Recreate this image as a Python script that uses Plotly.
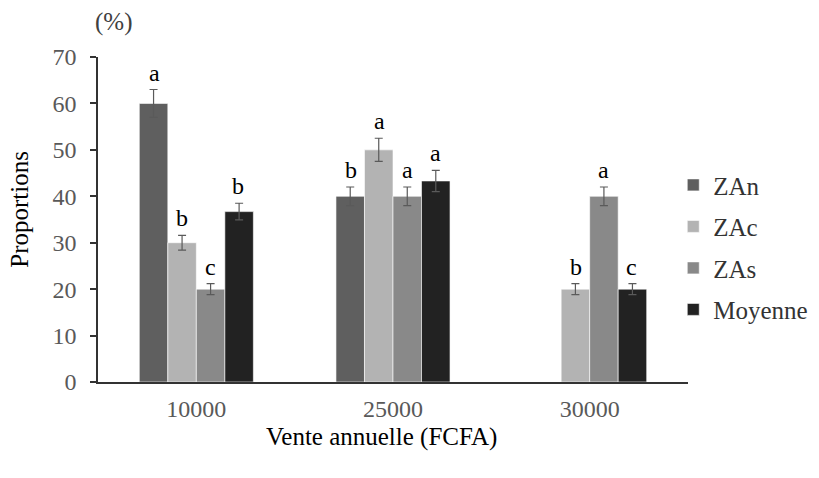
import plotly.graph_objects as go

categories = ["10000", "25000", "30000"]
series_names = ["ZAn", "ZAc", "ZAs", "Moyenne"]
zan = [60, 40, 0]
zac = [30, 50, 20]
zas = [20, 40, 40]
moy = [36.7, 43.3, 20]
zan_err = [3, 2, 0]
zac_err = [1.6, 2.5, 1.2]
zas_err = [1.2, 2.0, 2.0]
moy_err = [1.8, 2.3, 1.2]
zan_lbl = ["a", "b", ""]
zac_lbl = ["b", "a", "b"]
zas_lbl = ["c", "a", "a"]
moy_lbl = ["b", "a", "c"]
y_ticks = [0, 10, 20, 30, 40, 50, 60, 70]

colors = ["#5f5f5f", "#b3b3b3", "#898989", "#222222"]
values = [zan, zac, zas, moy]
errors = [zan_err, zac_err, zas_err, moy_err]
labels = [zan_lbl, zac_lbl, zas_lbl, moy_lbl]

FONT = "'Liberation Serif', 'Times New Roman', 'DejaVu Serif', serif"
fig = go.Figure()
for i, name in enumerate(series_names):
    show_err = [e if v > 0 else None for v, e in zip(values[i], errors[i])]
    fig.add_trace(go.Bar(
        x=categories, y=[v if v > 0 else None for v in values[i]], name=name,
        marker=dict(color=colors[i], line=dict(color="white", width=0.6)),
        error_y=dict(type="data", array=show_err, visible=True, color="#5a5a5a", thickness=1.2, width=4),
        legendgroup=name,
    ))

annotations = []
offsets = [-42, -14, 14, 42]
for i in range(4):
    for j, c in enumerate(categories):
        if labels[i][j] and values[i][j] > 0:
            annotations.append(dict(
                x=j, y=values[i][j] + errors[i][j], xref="x", yref="y",
                text=labels[i][j], showarrow=False, xshift=offsets[i], yshift=2,
                yanchor="bottom", font=dict(family=FONT, size=24, color="black"),
            ))
annotations.append(dict(x=0.0, y=1.0, xref="paper", yref="paper", text="(%)", showarrow=False,
                        xanchor="center", yanchor="middle", xshift=15, yshift=35,
                        font=dict(family=FONT, size=25, color="#404040")))
annotations.append(dict(x=0.48, y=0, xref="paper", yref="paper", text="Vente annuelle (FCFA)", showarrow=False,
                        yanchor="middle", yshift=-55, font=dict(family=FONT, size=25, color="black")))
annotations.append(dict(x=0, y=0.53, xref="paper", yref="paper", text="Proportions", showarrow=False,
                        textangle=-90, xanchor="center", yanchor="middle", xshift=-78,
                        font=dict(family=FONT, size=25, color="black")))

fig.update_layout(
    width=819, height=478,
    margin=dict(l=98, r=131, t=57, b=96, autoexpand=False),
    paper_bgcolor="white", plot_bgcolor="white",
    barmode="group", bargap=0.42, bargroupgap=0,
    font=dict(family=FONT, size=24, color="#595959"),
    showlegend=True,
    legend=dict(x=0.975, y=0.415, xanchor="left", yanchor="middle",
                font=dict(family=FONT, size=25, color="#333333"),
                tracegroupgap=6, itemwidth=30),
    annotations=annotations,
    xaxis=dict(type="category", range=[-0.5, 2.5], showline=True, linecolor="#333333", linewidth=1.5, ticks="",
               ticklabelstandoff=4,
               tickfont=dict(family=FONT, size=24, color="#595959")),
    yaxis=dict(range=[0, 70], tickvals=y_ticks, showline=True, linecolor="#333333", linewidth=1.5,
               ticks="outside", ticklen=6, tickwidth=1.5, tickcolor="#333333", showgrid=False, zeroline=False,
               ticklabelstandoff=9,
               tickfont=dict(family=FONT, size=24, color="#595959")),
)

fig.write_html("out.html")
